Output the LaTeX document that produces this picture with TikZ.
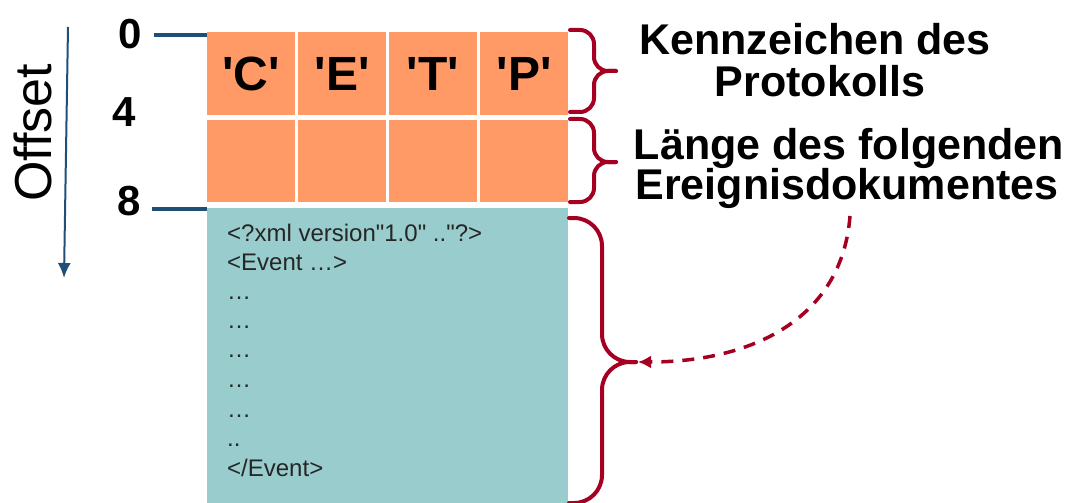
\documentclass[tikz,border=0pt]{standalone}
\usepackage{fontspec}
\setmainfont{Liberation Sans}[Ligatures=TeXOff]
\usetikzlibrary{arrows.meta}
\definecolor{orangec}{HTML}{FF9966}
\definecolor{tealc}{HTML}{99CCCC}
\definecolor{bracec}{HTML}{A50021}
\definecolor{bluec}{HTML}{1F4E79}
\tikzset{
  cell/.style={fill=orangec, minimum width=88pt, inner sep=0pt, font=\fontsize{48}{50}\selectfont\bfseries},
  numlbl/.style={inner sep=0pt, font=\fontsize{42}{44}\selectfont\bfseries},
  xmlline/.style={anchor=base west, inner sep=0pt, font=\fontsize{24}{28}\selectfont, text=black!85},
  desc/.style={anchor=base, inner sep=0pt, font=\fontsize{43}{46}\selectfont\bfseries},
  brace/.style={draw=bracec, line width=4pt, rounded corners=14pt, line cap=round},
  tick/.style={draw=bluec, line width=4pt}
}
\begin{document}
\begin{tikzpicture}[x=1pt,y=-1pt]
\useasboundingbox (0,0) rectangle (1072,503);
\clip (0,0) rectangle (1072,503);
% cells row 1
\node[cell, minimum height=83pt] (c1) at (251,73.5) {'C'};
\node[cell, minimum height=83pt] (c2) at (342,73.5) {'E'};
\node[cell, minimum height=83pt] (c3) at (433,73.5) {'T'};
\node[cell, minimum height=83pt] (c4) at (524,73.5) {'P'};
% cells row 2
\node[cell, minimum height=82pt] (d1) at (251,161) {};
\node[cell, minimum height=82pt] (d2) at (342,161) {};
\node[cell, minimum height=82pt] (d3) at (433,161) {};
\node[cell, minimum height=82pt] (d4) at (524,161) {};
% teal block
\node[fill=tealc, minimum width=361pt, minimum height=300pt, inner sep=0pt, anchor=north west] (body) at (207,208) {};
% xml lines
\node[xmlline] (x1) at (227,241) {<?xml version"1.0" .."?>};
\node[xmlline] (x2) at (227,270) {<Event …>};
\node[xmlline] (x3) at (227,299) {…};
\node[xmlline] (x4) at (227,328) {…};
\node[xmlline] (x5) at (227,357) {…};
\node[xmlline] (x6) at (227,387) {…};
\node[xmlline] (x7) at (227,417) {…};
\node[xmlline] (x8) at (227,446) {..};
\node[xmlline] (x9) at (227,476) {</Event>};
% offset numbers
\node[numlbl] (n0) at (130,34) {0};
\node[numlbl] (n4) at (124,112) {4};
\node[numlbl] (n8) at (129,201) {8};
% ticks
\coordinate (t0a) at (154,35); \coordinate (t0b) at (207,35);
\coordinate (t8a) at (152,209); \coordinate (t8b) at (207,209);
\draw[tick] (t0a) -- (t0b);
\draw[tick] (t8a) -- (t8b);
% offset axis
\node[rotate=90, inner sep=0pt, font=\fontsize{52}{56}\selectfont] (off) at (33,133) {Offset};
\coordinate (oa) at (68,27); \coordinate (ob) at (64,278);
\draw[draw=bluec, line width=2pt, -{Latex[length=15pt,width=13pt]}] (oa) -- (ob);
% braces
\coordinate (b1tip) at (616,71);
\draw[brace] (570,30) -- (594,30) -- (594,71) -- (b1tip);
\draw[brace] (b1tip) -- (594,71) -- (594,112) -- (570,112);
\coordinate (b2tip) at (616,162);
\draw[brace] (570,119) -- (594,119) -- (594,162) -- (b2tip);
\draw[brace] (b2tip) -- (594,162) -- (594,202) -- (570,202);
\coordinate (b3tip) at (636,362);
\draw[brace, rounded corners=28pt] (569,218) -- (602,218) -- (602,362) -- (b3tip);
\draw[brace, rounded corners=28pt] (b3tip) -- (602,362) -- (602,503) -- (569,503);
% labels
\node[desc] (k1) at (815,55) {Kennzeichen des};
\node[desc] (k2) at (820,96) {Protokolls};
\node[desc] (l1) at (849,159) {Länge des folgenden};
\node[desc] (l2) at (847,199) {Ereignisdokumentes};
% dashed arrow
\coordinate (d0) at (850,216);
\draw[draw=bracec, line width=3.5pt, dash pattern=on 12pt off 9pt, -{Latex[length=13pt,width=13pt]}]
  (d0) .. controls (842,320) and (750,362) .. ([xshift=2pt]b3tip);
\end{tikzpicture}
\end{document}
